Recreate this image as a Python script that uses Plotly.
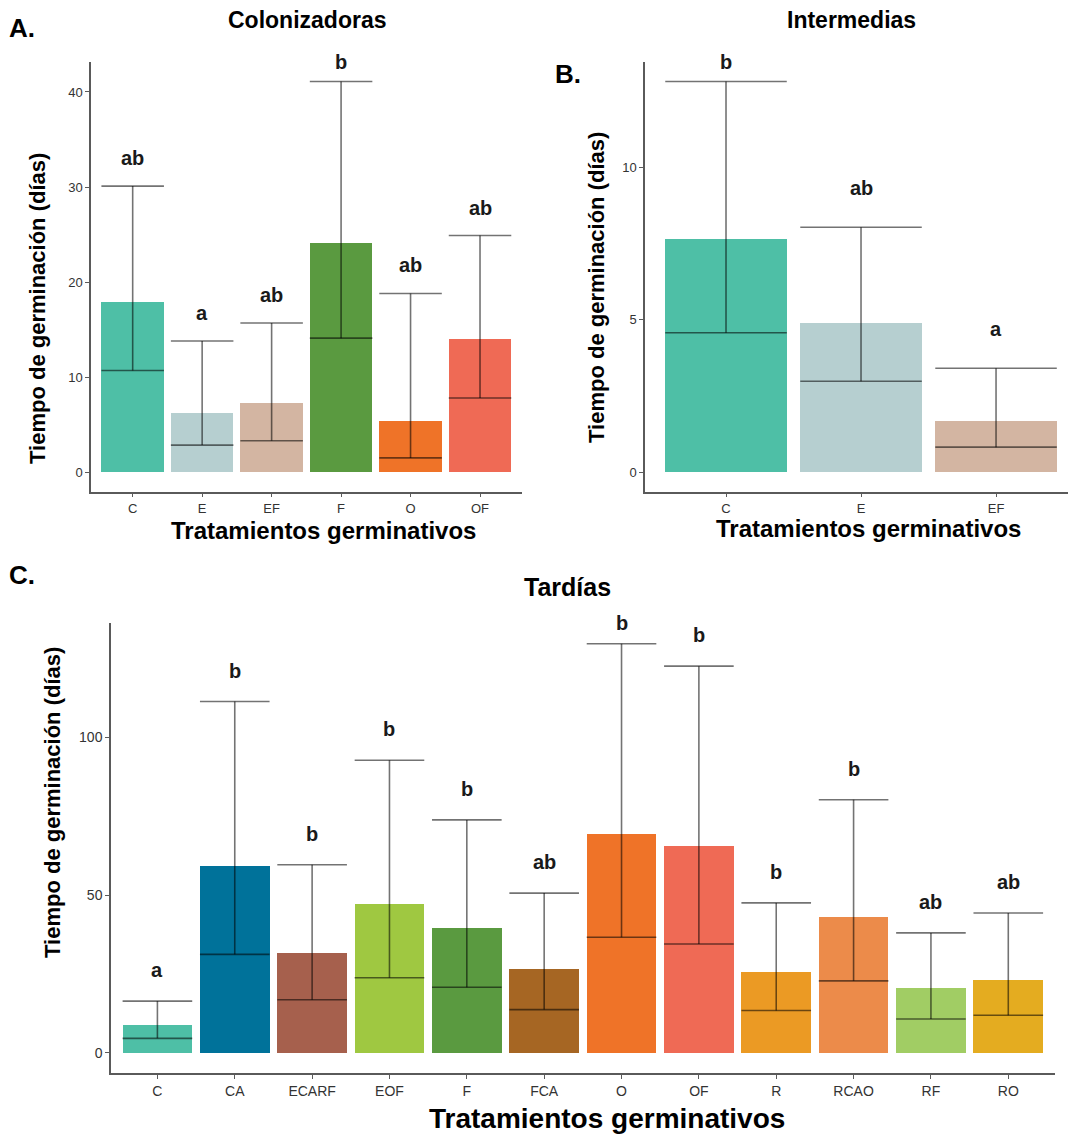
import plotly.graph_objects as go

# ---------------- data ----------------
col_cats = ["C", "E", "EF", "F", "O", "OF"]
col_mean = [17.9, 6.2, 7.3, 24.1, 5.4, 14.0]
col_low = [10.7, 2.85, 3.3, 14.1, 1.5, 7.8]
col_up = [30.1, 13.8, 15.7, 41.1, 18.8, 24.9]
col_letters = ["ab", "a", "ab", "b", "ab", "ab"]
col_colors = ["#4EBFA6", "#B6CFD0", "#D3B5A2", "#5A9A40", "#EF7328", "#EF6A55"]

int_cats = ["C", "E", "EF"]
int_mean = [7.66, 4.9, 1.69]
int_low = [4.57, 2.98, 0.82]
int_up = [12.81, 8.03, 3.41]
int_letters = ["b", "ab", "a"]
int_colors = ["#4EBFA6", "#B6CFD0", "#D3B5A2"]

tar_cats = ["C", "CA", "ECARF", "EOF", "F", "FCA", "O", "OF", "R", "RCAO", "RF", "RO"]
tar_mean = [8.8, 59.0, 31.6, 47.2, 39.3, 26.6, 69.1, 65.3, 25.4, 42.8, 20.4, 23.1]
tar_low = [4.6, 31.2, 16.8, 23.8, 20.8, 13.7, 36.6, 34.5, 13.4, 22.8, 10.7, 11.9]
tar_up = [16.4, 111.3, 59.6, 92.7, 73.8, 50.6, 129.6, 122.5, 47.5, 80.2, 38.0, 44.3]
tar_letters = ["a", "b", "b", "b", "b", "ab", "b", "b", "b", "b", "ab", "ab"]
tar_colors = ["#4EBFA6", "#00729A", "#A6604D", "#9FC841", "#5A9A40", "#A66623",
              "#EF7328", "#EF6A55", "#EB9A24", "#EC8B4A", "#A1CD64", "#E4AC20"]

W, H = 1068, 1136
FONT = "Liberation Sans, Arial, sans-serif"


def px(x):
    return x / W


def py(y):
    return 1 - y / H


fig = go.Figure()

panels = [
    dict(cats=col_cats, mean=col_mean, low=col_low, up=col_up, letters=col_letters,
         colors=col_colors, xa="x", ya="y", xdom=[px(91), px(521.7)],
         ydom=[py(491.7), py(62)], dtick=10, xr_right=None, off_px=28),
    dict(cats=int_cats, mean=int_mean, low=int_low, up=int_up, letters=int_letters,
         colors=int_colors, xa="x2", ya="y2", xdom=[px(645), 1.0],
         ydom=[py(491.7), py(62)], dtick=5, xr_right=2.533, off_px=39),
    dict(cats=tar_cats, mean=tar_mean, low=tar_low, up=tar_up, letters=tar_letters,
         colors=tar_colors, xa="x3", ya="y3", xdom=[px(111), px(1054.7)],
         ydom=[py(1073.3), py(623.3)], dtick=50, xr_right=None, off_px=31),
]

annotations = []
for k, p in enumerate(panels):
    n = len(p["cats"])
    idx = list(range(n))
    fig.add_trace(go.Bar(
        x=idx, y=p["mean"], width=0.9, marker=dict(color=p["colors"], line=dict(width=0)),
        xaxis=p["xa"], yaxis=p["ya"], showlegend=False, hoverinfo="skip"))
    # error segments: cap at upper, vertical, line at lower
    lx, ly = [], []
    for i in idx:
        lx += [i - 0.45, i + 0.45, None, i, i, None, i - 0.45, i + 0.45, None]
        ly += [p["up"][i], p["up"][i], None, p["up"][i], p["low"][i], None,
               p["low"][i], p["low"][i], None]
    fig.add_trace(go.Scatter(
        x=lx, y=ly, mode="lines", line=dict(color="rgba(0,0,0,0.55)", width=1.6),
        xaxis=p["xa"], yaxis=p["ya"], showlegend=False, hoverinfo="skip"))
    ymax = max(p["up"])
    yr = [-0.05 * ymax, 1.05 * ymax]
    pane_px = (p["ydom"][1] - p["ydom"][0]) * H
    units_per_px = (yr[1] - yr[0]) / pane_px
    for i in idx:
        ly_ = min(p["up"][i] + p["off_px"] * units_per_px, yr[1])
        annotations.append(dict(
            x=i, y=ly_, xref=p["xa"], yref=p["ya"], text="<b>%s</b>" % p["letters"][i],
            showarrow=False, yanchor="middle", xanchor="center",
            font=dict(family=FONT, size=20, color="#1a1a1a")))
    suffix = "" if k == 0 else str(k + 1)
    xr = [-0.6, p["xr_right"] if p["xr_right"] is not None else n - 1 + 0.6]
    axis_common = dict(showline=True, linecolor="#5a5a5a", linewidth=1.5, ticks="outside",
                       ticklen=4, tickcolor="#5a5a5a", tickwidth=1, showgrid=False,
                       zeroline=False, tickfont=dict(family=FONT, size=14 if k == 2 else 13,
                                                      color="#333333"))
    fig.layout["xaxis" + suffix] = dict(
        domain=p["xdom"], range=xr, tickmode="array", tickvals=idx, ticktext=p["cats"],
        anchor="y" + suffix, **axis_common)
    fig.layout["yaxis" + suffix] = dict(
        domain=p["ydom"], range=yr, dtick=p["dtick"], tick0=0, anchor="x" + suffix,
        **axis_common)

texts = [
    # (text, x, y, size, angle)
    ("Colonizadoras", 307, 20, 23, 0),
    ("Intermedias", 851, 20, 23, 0),
    ("Tardías", 567, 587, 25, 0),
    ("A.", 22, 28, 26, 0),
    ("B.", 568, 74, 26, 0),
    ("C.", 22, 575, 26, 0),
    ("Tratamientos germinativos", 323, 530, 24, 0),
    ("Tratamientos germinativos", 868, 528, 24, 0),
    ("Tratamientos germinativos", 607, 1118, 28, 0),
    ("Tiempo de germinación (días)", 37, 309, 22, -90),
    ("Tiempo de germinación (días)", 596, 288, 22, -90),
    ("Tiempo de germinación (días)", 52, 803, 22, -90),
]
for t, x, y, s, a in texts:
    annotations.append(dict(
        text="<b>%s</b>" % t, x=px(x), y=py(y), xref="paper", yref="paper",
        showarrow=False, xanchor="center", yanchor="middle", textangle=a,
        font=dict(family=FONT, size=s, color="#000000")))

fig.update_layout(
    width=W, height=H, margin=dict(l=0, r=0, t=0, b=0),
    paper_bgcolor="white", plot_bgcolor="white",
    annotations=annotations, bargap=0, showlegend=False)

fig.write_html("out.html", config={"displayModeBar": False},
               post_script="document.body.style.margin='0';")
